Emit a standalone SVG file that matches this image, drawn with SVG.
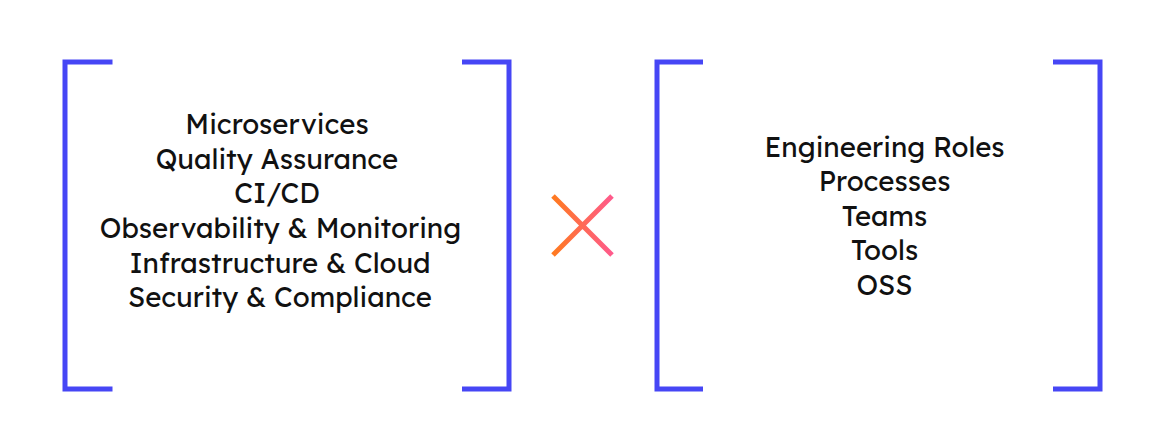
<svg xmlns="http://www.w3.org/2000/svg" width="1165" height="448" viewBox="0 0 1165 448">
<defs>
<linearGradient id="xg" x1="553" y1="0" x2="612" y2="0" gradientUnits="userSpaceOnUse">
<stop offset="0" stop-color="#FF7A1F"/>
<stop offset="1" stop-color="#FF5A8C"/>
</linearGradient>
<style>
.br{fill:none;stroke:#4646F5;stroke-width:5;stroke-linecap:butt;stroke-linejoin:miter}
.t{font-family:"Lexend","Noto Sans","Open Sans",sans-serif;font-size:27.6px;fill:#111;text-anchor:middle}
</style>
</defs>
<rect width="1165" height="448" fill="#fff"/>
<g id="left-group">
<path class="br" d="M112.5,62 H65 V389 H112.5"/>
<path class="br" d="M462,62 H509 V389 H462"/>
<text class="t" x="277" y="134">Microservices</text>
<text class="t" x="277" y="169">Quality Assurance</text>
<text class="t" x="277" y="203">CI/CD</text>
<text class="t" x="280.5" y="238">Observability &amp; Monitoring</text>
<text class="t" x="280" y="273">Infrastructure &amp; Cloud</text>
<text class="t" x="280" y="307">Security &amp; Compliance</text>
</g>
<g id="cross">
<path d="M553,196 L612,255 M553,255 L612,196" stroke="url(#xg)" stroke-width="5" fill="none"/>
</g>
<g id="right-group">
<path class="br" d="M703,62 H657 V389 H703"/>
<path class="br" d="M1053,62 H1100 V389 H1053"/>
<text class="t" x="884.5" y="157">Engineering Roles</text>
<text class="t" x="884.5" y="191">Processes</text>
<text class="t" x="884.5" y="226">Teams</text>
<text class="t" x="884.5" y="260">Tools</text>
<text class="t" x="884.5" y="295">OSS</text>
</g>
<g id="connectors"></g>
</svg>
